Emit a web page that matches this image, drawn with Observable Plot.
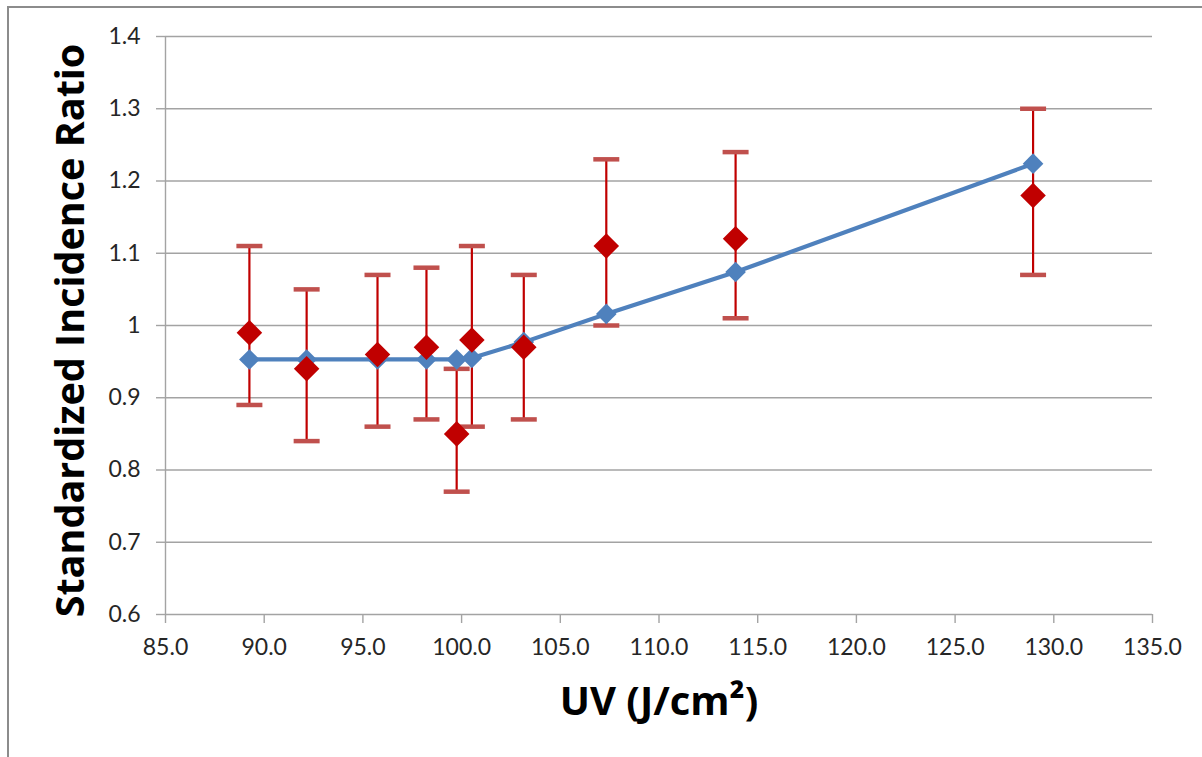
<!DOCTYPE html>
<html><head><meta charset="utf-8">
<script src="https://cdn.jsdelivr.net/npm/d3@7"></script>
<script src="https://cdn.jsdelivr.net/npm/@observablehq/plot@0.6"></script>
<style>
html,body{margin:0;padding:0;background:#fff;}
#frame{position:absolute;left:7px;top:6px;width:1300px;height:900px;border-left:2px solid #8c8c8c;border-top:2px solid #8c8c8c;box-sizing:border-box;}
#chart{position:absolute;left:0;top:0;}
</style></head><body>
<div id="frame"></div><div id="chart"></div>
<script>
// UV dose (J/cm²) for each group
const uv = [89.25, 92.15, 95.74, 98.22, 99.75, 100.52, 103.15, 107.33, 113.88, 128.95];
// observed Standardized Incidence Ratio with 95% CI
const sir = [0.99, 0.94, 0.96, 0.97, 0.85, 0.98, 0.97, 1.11, 1.12, 1.18];
const sirLow = [0.89, 0.84, 0.86, 0.87, 0.77, 0.86, 0.87, 1.00, 1.01, 1.07];
const sirHigh = [1.11, 1.05, 1.07, 1.08, 0.94, 1.11, 1.07, 1.23, 1.24, 1.30];
// fitted (model) SIR
const fitted = [0.953, 0.953, 0.953, 0.953, 0.953, 0.955, 0.977, 1.016, 1.074, 1.224];
// axis ticks
const xTicks = [85, 90, 95, 100, 105, 110, 115, 120, 125, 130, 135];
const yTicks = [0.6, 0.7, 0.8, 0.9, 1.0, 1.1, 1.2, 1.3, 1.4];
const xTitle = "UV (J/cm²)";
const yTitle = "Standardized Incidence Ratio";

const data = uv.map((x, i) => ({uv: x, sir: sir[i], lo: sirLow[i], hi: sirHigh[i], fit: fitted[i]}));
const capSymbol = {draw(ctx, size) { const r = Math.sqrt(size / Math.PI); ctx.moveTo(-r, 0); ctx.lineTo(r, 0); }};

const font = "Lato, 'Open Sans', sans-serif";
const titleFont = "'Open Sans', Lato, sans-serif";
const chart = Plot.plot({
  width: 1202, height: 757,
  marginLeft: 165, marginRight: 50, marginTop: 36, marginBottom: 143,
  style: {fontFamily: font, fontSize: "23px", color: "#262626", background: "transparent", overflow: "visible"},
  x: {domain: [85, 135]},
  y: {domain: [0.6, 1.4]},
  marks: [
    Plot.gridY(yTicks, {stroke: "#a3a3a3", strokeOpacity: 1, strokeWidth: 1.4}),
    Plot.ruleX([85], {stroke: "#a3a3a3", strokeWidth: 1.4}),
    Plot.axisX({ticks: xTicks, tickFormat: d => d.toFixed(1), tickSize: 9, tickPadding: 15, fontSize: 23, stroke: "#a3a3a3", strokeWidth: 1.4, label: null}),
    Plot.axisY({ticks: yTicks, tickFormat: d => d === 1 ? "1" : d.toFixed(1), tickSize: 9, tickPadding: 16, fontSize: 23, stroke: "#a3a3a3", strokeWidth: 1.4, label: null}),
    Plot.ruleX(data, {x: "uv", y1: "lo", y2: "hi", stroke: "#c00000", strokeWidth: 2.2}),
    Plot.dot(data, {x: "uv", y: "lo", symbol: capSymbol, r: 13, stroke: "#c0504d", strokeWidth: 4.5, fill: "none"}),
    Plot.dot(data, {x: "uv", y: "hi", symbol: capSymbol, r: 13, stroke: "#c0504d", strokeWidth: 4.5, fill: "none"}),
    Plot.line(data, {x: "uv", y: "fit", stroke: "#4f81bd", strokeWidth: 4.2}),
    Plot.dot(data, {x: "uv", y: "fit", symbol: "diamond2", r: 9.3, fill: "#4f81bd", stroke: "none"}),
    Plot.dot(data, {x: "uv", y: "sir", symbol: "diamond2", r: 11.5, fill: "#c00000", stroke: "none"}),
    Plot.text([yTitle], {frameAnchor: "left", dx: -94, dy: 5, rotate: -90, textAnchor: "middle", lineAnchor: "middle", fontFamily: titleFont, fontSize: 39.5, fontWeight: "bold", fill: "#000"}),
    Plot.text([xTitle], {frameAnchor: "bottom", dy: 88, textAnchor: "middle", lineAnchor: "middle", fontFamily: titleFont, fontSize: 40, fontWeight: "bold", fill: "#000", style: {letterSpacing: "2px"}})
  ]
});
document.getElementById("chart").appendChild(chart);
</script>
</body></html>
